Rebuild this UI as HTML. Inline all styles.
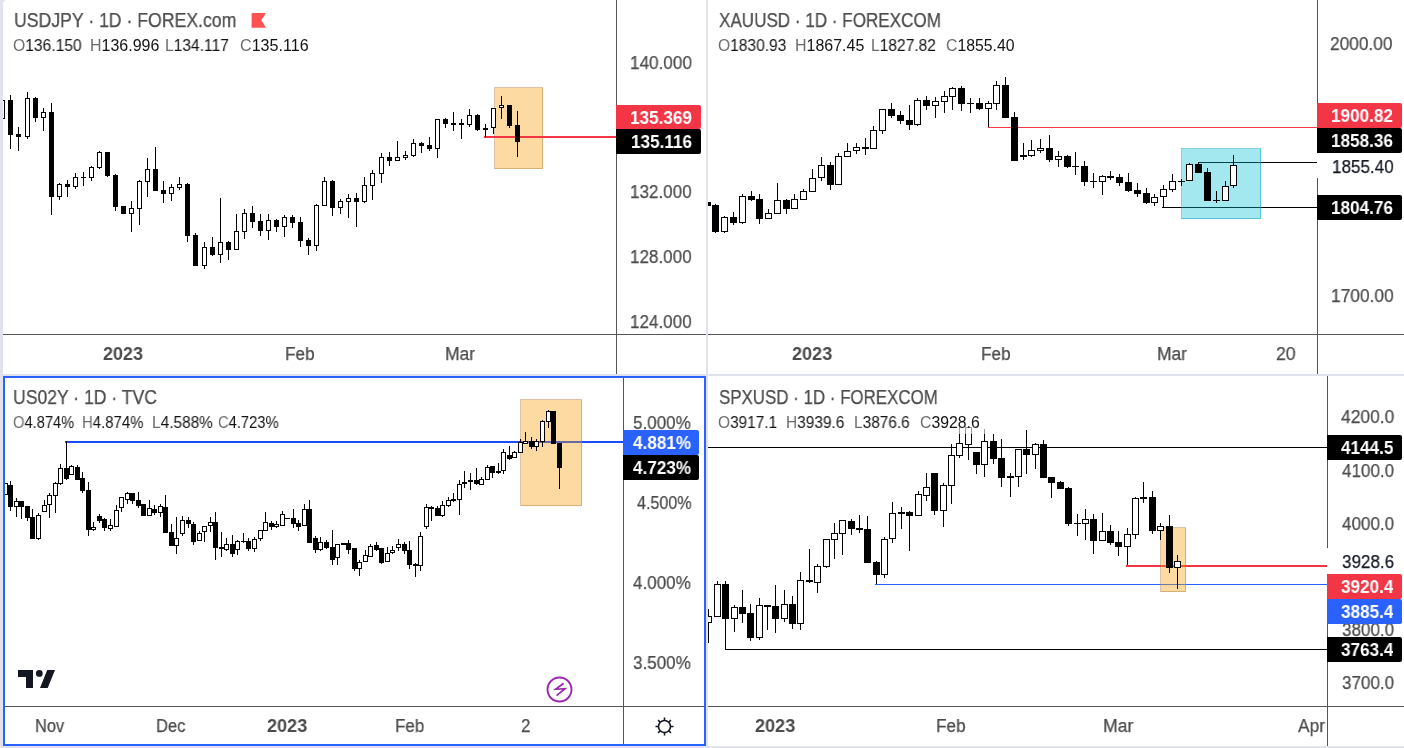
<!DOCTYPE html><html><head><meta charset="utf-8"><style>
html,body{margin:0;padding:0;width:1404px;height:748px;overflow:hidden;background:#e0e3eb;font-family:"Liberation Sans", sans-serif;}
svg{position:absolute;left:0;top:0;shape-rendering:crispEdges}
</style></head><body><div style="position:absolute;left:3px;top:0px;width:703px;height:374px;background:#fff;border-top-left-radius:4px;"></div><div style="position:absolute;left:708px;top:0px;width:696px;height:374px;background:#fff;"></div><div style="position:absolute;left:3px;top:376px;width:703px;height:370px;background:#fff;"></div><div style="position:absolute;left:708px;top:376px;width:696px;height:370px;background:#fff;"></div><svg width="1404" height="748" viewBox="0 0 1404 748"><defs><clipPath id="ctl"><rect x="3" y="0" width="613" height="334"/></clipPath><clipPath id="ctr"><rect x="708" y="0" width="609" height="334"/></clipPath><clipPath id="cbl"><rect x="5" y="378" width="618" height="328"/></clipPath><clipPath id="cbr"><rect x="708" y="376" width="619" height="330"/></clipPath></defs><g clip-path="url(#ctl)"><rect x="494.5" y="87.5" width="48" height="81" fill="rgba(250,155,0,0.37)" stroke="rgba(170,125,60,0.45)" stroke-width="1"/><rect x="484" y="136" width="132" height="2" fill="#f23645"/><g fill="#000"><rect x="0" y="100" width="5" height="19"/><rect x="1" y="101" width="3" height="17" fill="#fff"/><rect x="10" y="95" width="1" height="5"/><rect x="10" y="135" width="1" height="14"/><rect x="8" y="100" width="5" height="35"/><rect x="18" y="127" width="1" height="7"/><rect x="18" y="137" width="1" height="14"/><rect x="16" y="134" width="5" height="3"/><rect x="27" y="92" width="1" height="6"/><rect x="27" y="137" width="1" height="2"/><rect x="25" y="98" width="5" height="39"/><rect x="26" y="99" width="3" height="37" fill="#fff"/><rect x="35" y="97" width="1" height="1"/><rect x="35" y="118" width="1" height="4"/><rect x="33" y="98" width="5" height="20"/><rect x="43" y="108" width="1" height="4"/><rect x="43" y="118" width="1" height="13"/><rect x="41" y="112" width="5" height="6"/><rect x="42" y="113" width="3" height="4" fill="#fff"/><rect x="51" y="103" width="1" height="9"/><rect x="51" y="197" width="1" height="18"/><rect x="49" y="112" width="5" height="85"/><rect x="59" y="183" width="1" height="1"/><rect x="59" y="197" width="1" height="3"/><rect x="57" y="184" width="5" height="13"/><rect x="58" y="185" width="3" height="11" fill="#fff"/><rect x="67" y="180" width="1" height="4"/><rect x="67" y="187" width="1" height="10"/><rect x="65" y="184" width="5" height="3"/><rect x="75" y="173" width="1" height="4"/><rect x="75" y="187" width="1" height="2"/><rect x="73" y="177" width="5" height="10"/><rect x="74" y="178" width="3" height="8" fill="#fff"/><rect x="83" y="172" width="1" height="5"/><rect x="83" y="178" width="1" height="8"/><rect x="81" y="177" width="5" height="1"/><rect x="91" y="166" width="1" height="1"/><rect x="91" y="178" width="1" height="3"/><rect x="89" y="167" width="5" height="11"/><rect x="90" y="168" width="3" height="9" fill="#fff"/><rect x="99" y="151" width="1" height="1"/><rect x="99" y="168" width="1" height="1"/><rect x="97" y="152" width="5" height="16"/><rect x="98" y="153" width="3" height="14" fill="#fff"/><rect x="107" y="176" width="1" height="1"/><rect x="105" y="152" width="5" height="24"/><rect x="115" y="174" width="1" height="1"/><rect x="115" y="207" width="1" height="4"/><rect x="113" y="175" width="5" height="32"/><rect x="121" y="206" width="5" height="8"/><rect x="131" y="201" width="1" height="7"/><rect x="131" y="214" width="1" height="18"/><rect x="129" y="208" width="5" height="6"/><rect x="130" y="209" width="3" height="4" fill="#fff"/><rect x="139" y="180" width="1" height="1"/><rect x="139" y="209" width="1" height="16"/><rect x="137" y="181" width="5" height="28"/><rect x="138" y="182" width="3" height="26" fill="#fff"/><rect x="147" y="158" width="1" height="11"/><rect x="147" y="182" width="1" height="15"/><rect x="145" y="169" width="5" height="13"/><rect x="146" y="170" width="3" height="11" fill="#fff"/><rect x="155" y="147" width="1" height="22"/><rect x="153" y="169" width="5" height="22"/><rect x="163" y="181" width="1" height="9"/><rect x="163" y="194" width="1" height="9"/><rect x="161" y="190" width="5" height="4"/><rect x="171" y="184" width="1" height="3"/><rect x="171" y="194" width="1" height="7"/><rect x="169" y="187" width="5" height="7"/><rect x="170" y="188" width="3" height="5" fill="#fff"/><rect x="179" y="177" width="1" height="7"/><rect x="179" y="188" width="1" height="2"/><rect x="177" y="184" width="5" height="4"/><rect x="178" y="185" width="3" height="2" fill="#fff"/><rect x="187" y="183" width="1" height="1"/><rect x="187" y="236" width="1" height="6"/><rect x="185" y="184" width="5" height="52"/><rect x="195" y="233" width="1" height="2"/><rect x="193" y="235" width="5" height="31"/><rect x="204" y="242" width="1" height="5"/><rect x="204" y="266" width="1" height="3"/><rect x="202" y="247" width="5" height="19"/><rect x="203" y="248" width="3" height="17" fill="#fff"/><rect x="212" y="237" width="1" height="10"/><rect x="212" y="255" width="1" height="1"/><rect x="210" y="247" width="5" height="8"/><rect x="220" y="198" width="1" height="44"/><rect x="220" y="255" width="1" height="8"/><rect x="218" y="242" width="5" height="13"/><rect x="219" y="243" width="3" height="11" fill="#fff"/><rect x="228" y="241" width="1" height="1"/><rect x="228" y="250" width="1" height="10"/><rect x="226" y="242" width="5" height="8"/><rect x="236" y="214" width="1" height="17"/><rect x="234" y="231" width="5" height="19"/><rect x="235" y="232" width="3" height="17" fill="#fff"/><rect x="244" y="209" width="1" height="4"/><rect x="244" y="232" width="1" height="7"/><rect x="242" y="213" width="5" height="19"/><rect x="243" y="214" width="3" height="17" fill="#fff"/><rect x="252" y="206" width="1" height="7"/><rect x="252" y="222" width="1" height="6"/><rect x="250" y="213" width="5" height="9"/><rect x="260" y="214" width="1" height="7"/><rect x="260" y="231" width="1" height="5"/><rect x="258" y="221" width="5" height="10"/><rect x="268" y="214" width="1" height="6"/><rect x="268" y="231" width="1" height="9"/><rect x="266" y="220" width="5" height="11"/><rect x="267" y="221" width="3" height="9" fill="#fff"/><rect x="276" y="219" width="1" height="1"/><rect x="276" y="227" width="1" height="5"/><rect x="274" y="220" width="5" height="7"/><rect x="284" y="215" width="1" height="2"/><rect x="284" y="227" width="1" height="10"/><rect x="282" y="217" width="5" height="10"/><rect x="283" y="218" width="3" height="8" fill="#fff"/><rect x="292" y="215" width="1" height="2"/><rect x="292" y="223" width="1" height="5"/><rect x="290" y="217" width="5" height="6"/><rect x="300" y="217" width="1" height="5"/><rect x="300" y="241" width="1" height="6"/><rect x="298" y="222" width="5" height="19"/><rect x="308" y="238" width="1" height="2"/><rect x="308" y="246" width="1" height="9"/><rect x="306" y="240" width="5" height="6"/><rect x="316" y="204" width="1" height="1"/><rect x="316" y="246" width="1" height="5"/><rect x="314" y="205" width="5" height="41"/><rect x="315" y="206" width="3" height="39" fill="#fff"/><rect x="324" y="177" width="1" height="4"/><rect x="322" y="181" width="5" height="25"/><rect x="323" y="182" width="3" height="23" fill="#fff"/><rect x="332" y="180" width="1" height="1"/><rect x="332" y="208" width="1" height="8"/><rect x="330" y="181" width="5" height="27"/><rect x="340" y="199" width="1" height="2"/><rect x="340" y="208" width="1" height="6"/><rect x="338" y="201" width="5" height="7"/><rect x="339" y="202" width="3" height="5" fill="#fff"/><rect x="348" y="194" width="1" height="4"/><rect x="348" y="202" width="1" height="16"/><rect x="346" y="198" width="5" height="4"/><rect x="347" y="199" width="3" height="2" fill="#fff"/><rect x="356" y="193" width="1" height="5"/><rect x="356" y="202" width="1" height="25"/><rect x="354" y="198" width="5" height="4"/><rect x="364" y="177" width="1" height="8"/><rect x="364" y="202" width="1" height="1"/><rect x="362" y="185" width="5" height="17"/><rect x="363" y="186" width="3" height="15" fill="#fff"/><rect x="372" y="170" width="1" height="3"/><rect x="372" y="186" width="1" height="14"/><rect x="370" y="173" width="5" height="13"/><rect x="371" y="174" width="3" height="11" fill="#fff"/><rect x="381" y="153" width="1" height="4"/><rect x="381" y="174" width="1" height="9"/><rect x="379" y="157" width="5" height="17"/><rect x="380" y="158" width="3" height="15" fill="#fff"/><rect x="389" y="152" width="1" height="5"/><rect x="389" y="161" width="1" height="5"/><rect x="387" y="157" width="5" height="4"/><rect x="397" y="141" width="1" height="16"/><rect x="395" y="157" width="5" height="4"/><rect x="396" y="158" width="3" height="2" fill="#fff"/><rect x="405" y="151" width="1" height="4"/><rect x="405" y="158" width="1" height="2"/><rect x="403" y="155" width="5" height="3"/><rect x="404" y="156" width="3" height="1" fill="#fff"/><rect x="413" y="139" width="1" height="4"/><rect x="413" y="156" width="1" height="1"/><rect x="411" y="143" width="5" height="13"/><rect x="412" y="144" width="3" height="11" fill="#fff"/><rect x="421" y="142" width="1" height="1"/><rect x="421" y="146" width="1" height="7"/><rect x="419" y="143" width="5" height="3"/><rect x="429" y="137" width="1" height="8"/><rect x="429" y="149" width="1" height="2"/><rect x="427" y="145" width="5" height="4"/><rect x="437" y="149" width="1" height="9"/><rect x="435" y="119" width="5" height="30"/><rect x="436" y="120" width="3" height="28" fill="#fff"/><rect x="445" y="118" width="1" height="1"/><rect x="445" y="124" width="1" height="4"/><rect x="443" y="119" width="5" height="5"/><rect x="453" y="112" width="1" height="11"/><rect x="453" y="125" width="1" height="6"/><rect x="451" y="123" width="5" height="2"/><rect x="461" y="119" width="1" height="4"/><rect x="461" y="125" width="1" height="14"/><rect x="459" y="123" width="5" height="2"/><rect x="469" y="109" width="1" height="6"/><rect x="469" y="125" width="1" height="2"/><rect x="467" y="115" width="5" height="10"/><rect x="468" y="116" width="3" height="8" fill="#fff"/><rect x="477" y="114" width="1" height="1"/><rect x="477" y="130" width="1" height="1"/><rect x="475" y="115" width="5" height="15"/><rect x="485" y="124" width="1" height="4"/><rect x="485" y="130" width="1" height="7"/><rect x="483" y="128" width="5" height="2"/><rect x="493" y="128" width="1" height="6"/><rect x="491" y="108" width="5" height="20"/><rect x="492" y="109" width="3" height="18" fill="#fff"/><rect x="501" y="96" width="1" height="9"/><rect x="501" y="108" width="1" height="11"/><rect x="499" y="105" width="5" height="3"/><rect x="500" y="106" width="3" height="1" fill="#fff"/><rect x="509" y="126" width="1" height="2"/><rect x="507" y="105" width="5" height="21"/><rect x="517" y="111" width="1" height="14"/><rect x="517" y="142" width="1" height="15"/><rect x="515" y="125" width="5" height="17"/></g></g><rect x="3" y="334" width="703" height="1" fill="#555555"/><rect x="616" y="0" width="1" height="374" fill="#555555"/><g clip-path="url(#ctr)"><rect x="988" y="127" width="329" height="1" fill="#f23645"/><rect x="1198" y="162" width="119" height="1" fill="#000"/><rect x="1162" y="207" width="155" height="1" fill="#000"/><rect x="1181.5" y="148.5" width="79" height="70" fill="rgba(0,188,212,0.36)" stroke="rgba(0,160,190,0.48)" stroke-width="1"/><g fill="#000"><rect x="704" y="202" width="7" height="4"/><rect x="715" y="204" width="1" height="1"/><rect x="715" y="232" width="1" height="1"/><rect x="712" y="205" width="7" height="27"/><rect x="724" y="216" width="1" height="1"/><rect x="724" y="232" width="1" height="1"/><rect x="721" y="217" width="7" height="15"/><rect x="722" y="218" width="5" height="13" fill="#fff"/><rect x="733" y="212" width="1" height="5"/><rect x="733" y="223" width="1" height="2"/><rect x="730" y="217" width="7" height="6"/><rect x="742" y="194" width="1" height="2"/><rect x="742" y="223" width="1" height="1"/><rect x="739" y="196" width="7" height="27"/><rect x="740" y="197" width="5" height="25" fill="#fff"/><rect x="751" y="191" width="1" height="5"/><rect x="751" y="200" width="1" height="1"/><rect x="748" y="196" width="7" height="4"/><rect x="759" y="194" width="1" height="5"/><rect x="759" y="219" width="1" height="5"/><rect x="756" y="199" width="7" height="20"/><rect x="768" y="209" width="1" height="4"/><rect x="765" y="213" width="7" height="6"/><rect x="766" y="214" width="5" height="4" fill="#fff"/><rect x="777" y="183" width="1" height="17"/><rect x="774" y="200" width="7" height="14"/><rect x="775" y="201" width="5" height="12" fill="#fff"/><rect x="786" y="199" width="1" height="1"/><rect x="786" y="209" width="1" height="5"/><rect x="783" y="200" width="7" height="9"/><rect x="794" y="194" width="1" height="5"/><rect x="791" y="199" width="7" height="10"/><rect x="792" y="200" width="5" height="8" fill="#fff"/><rect x="803" y="189" width="1" height="2"/><rect x="800" y="191" width="7" height="9"/><rect x="801" y="192" width="5" height="7" fill="#fff"/><rect x="812" y="169" width="1" height="9"/><rect x="809" y="178" width="7" height="14"/><rect x="810" y="179" width="5" height="12" fill="#fff"/><rect x="821" y="157" width="1" height="8"/><rect x="821" y="178" width="1" height="3"/><rect x="818" y="165" width="7" height="13"/><rect x="819" y="166" width="5" height="11" fill="#fff"/><rect x="830" y="162" width="1" height="3"/><rect x="830" y="185" width="1" height="5"/><rect x="827" y="165" width="7" height="20"/><rect x="838" y="153" width="1" height="3"/><rect x="835" y="156" width="7" height="29"/><rect x="836" y="157" width="5" height="27" fill="#fff"/><rect x="847" y="143" width="1" height="8"/><rect x="844" y="151" width="7" height="6"/><rect x="845" y="152" width="5" height="4" fill="#fff"/><rect x="856" y="143" width="1" height="4"/><rect x="856" y="151" width="1" height="3"/><rect x="853" y="147" width="7" height="4"/><rect x="854" y="148" width="5" height="2" fill="#fff"/><rect x="865" y="138" width="1" height="9"/><rect x="865" y="149" width="1" height="6"/><rect x="862" y="147" width="7" height="2"/><rect x="873" y="126" width="1" height="4"/><rect x="870" y="130" width="7" height="19"/><rect x="871" y="131" width="5" height="17" fill="#fff"/><rect x="882" y="131" width="1" height="3"/><rect x="879" y="109" width="7" height="22"/><rect x="880" y="110" width="5" height="20" fill="#fff"/><rect x="891" y="103" width="1" height="6"/><rect x="891" y="116" width="1" height="2"/><rect x="888" y="109" width="7" height="7"/><rect x="900" y="111" width="1" height="4"/><rect x="900" y="121" width="1" height="3"/><rect x="897" y="115" width="7" height="6"/><rect x="909" y="105" width="1" height="15"/><rect x="909" y="125" width="1" height="5"/><rect x="906" y="120" width="7" height="5"/><rect x="917" y="98" width="1" height="2"/><rect x="917" y="125" width="1" height="1"/><rect x="914" y="100" width="7" height="25"/><rect x="915" y="101" width="5" height="23" fill="#fff"/><rect x="926" y="96" width="1" height="4"/><rect x="926" y="106" width="1" height="4"/><rect x="923" y="100" width="7" height="6"/><rect x="935" y="97" width="1" height="4"/><rect x="935" y="106" width="1" height="12"/><rect x="932" y="101" width="7" height="5"/><rect x="933" y="102" width="5" height="3" fill="#fff"/><rect x="944" y="91" width="1" height="5"/><rect x="944" y="102" width="1" height="11"/><rect x="941" y="96" width="7" height="6"/><rect x="942" y="97" width="5" height="4" fill="#fff"/><rect x="952" y="87" width="1" height="1"/><rect x="952" y="97" width="1" height="13"/><rect x="949" y="88" width="7" height="9"/><rect x="950" y="89" width="5" height="7" fill="#fff"/><rect x="961" y="86" width="1" height="2"/><rect x="961" y="104" width="1" height="7"/><rect x="958" y="88" width="7" height="16"/><rect x="970" y="98" width="1" height="5"/><rect x="970" y="104" width="1" height="9"/><rect x="967" y="103" width="7" height="1"/><rect x="979" y="98" width="1" height="5"/><rect x="979" y="109" width="1" height="1"/><rect x="976" y="103" width="7" height="6"/><rect x="988" y="101" width="1" height="2"/><rect x="988" y="109" width="1" height="18"/><rect x="985" y="103" width="7" height="6"/><rect x="986" y="104" width="5" height="4" fill="#fff"/><rect x="996" y="81" width="1" height="4"/><rect x="996" y="104" width="1" height="6"/><rect x="993" y="85" width="7" height="19"/><rect x="994" y="86" width="5" height="17" fill="#fff"/><rect x="1005" y="77" width="1" height="8"/><rect x="1002" y="85" width="7" height="33"/><rect x="1014" y="112" width="1" height="5"/><rect x="1011" y="117" width="7" height="44"/><rect x="1023" y="143" width="1" height="12"/><rect x="1023" y="157" width="1" height="3"/><rect x="1020" y="155" width="7" height="2"/><rect x="1031" y="140" width="1" height="10"/><rect x="1031" y="156" width="1" height="1"/><rect x="1028" y="150" width="7" height="6"/><rect x="1029" y="151" width="5" height="4" fill="#fff"/><rect x="1040" y="139" width="1" height="9"/><rect x="1040" y="151" width="1" height="2"/><rect x="1037" y="148" width="7" height="3"/><rect x="1038" y="149" width="5" height="1" fill="#fff"/><rect x="1049" y="135" width="1" height="13"/><rect x="1049" y="160" width="1" height="2"/><rect x="1046" y="148" width="7" height="12"/><rect x="1058" y="151" width="1" height="5"/><rect x="1058" y="160" width="1" height="7"/><rect x="1055" y="156" width="7" height="4"/><rect x="1056" y="157" width="5" height="2" fill="#fff"/><rect x="1067" y="155" width="1" height="1"/><rect x="1067" y="167" width="1" height="1"/><rect x="1064" y="156" width="7" height="11"/><rect x="1075" y="152" width="1" height="14"/><rect x="1075" y="167" width="1" height="8"/><rect x="1072" y="166" width="7" height="1"/><rect x="1084" y="161" width="1" height="5"/><rect x="1084" y="182" width="1" height="4"/><rect x="1081" y="166" width="7" height="16"/><rect x="1093" y="173" width="1" height="8"/><rect x="1093" y="182" width="1" height="6"/><rect x="1090" y="181" width="7" height="1"/><rect x="1102" y="175" width="1" height="1"/><rect x="1102" y="182" width="1" height="13"/><rect x="1099" y="176" width="7" height="6"/><rect x="1100" y="177" width="5" height="4" fill="#fff"/><rect x="1110" y="171" width="1" height="5"/><rect x="1110" y="178" width="1" height="2"/><rect x="1107" y="176" width="7" height="2"/><rect x="1119" y="174" width="1" height="3"/><rect x="1119" y="183" width="1" height="3"/><rect x="1116" y="177" width="7" height="6"/><rect x="1128" y="173" width="1" height="9"/><rect x="1128" y="191" width="1" height="1"/><rect x="1125" y="182" width="7" height="9"/><rect x="1137" y="183" width="1" height="7"/><rect x="1137" y="194" width="1" height="3"/><rect x="1134" y="190" width="7" height="4"/><rect x="1146" y="188" width="1" height="5"/><rect x="1146" y="203" width="1" height="1"/><rect x="1143" y="193" width="7" height="10"/><rect x="1154" y="194" width="1" height="3"/><rect x="1154" y="203" width="1" height="3"/><rect x="1151" y="197" width="7" height="6"/><rect x="1152" y="198" width="5" height="4" fill="#fff"/><rect x="1163" y="185" width="1" height="4"/><rect x="1163" y="197" width="1" height="11"/><rect x="1160" y="189" width="7" height="8"/><rect x="1161" y="190" width="5" height="6" fill="#fff"/><rect x="1172" y="174" width="1" height="7"/><rect x="1172" y="190" width="1" height="2"/><rect x="1169" y="181" width="7" height="9"/><rect x="1170" y="182" width="5" height="7" fill="#fff"/><rect x="1181" y="179" width="1" height="2"/><rect x="1181" y="182" width="1" height="4"/><rect x="1178" y="181" width="7" height="1"/><rect x="1189" y="163" width="1" height="1"/><rect x="1186" y="164" width="7" height="17"/><rect x="1187" y="165" width="5" height="15" fill="#fff"/><rect x="1198" y="162" width="1" height="2"/><rect x="1195" y="164" width="7" height="9"/><rect x="1207" y="168" width="1" height="4"/><rect x="1204" y="172" width="7" height="29"/><rect x="1216" y="191" width="1" height="9"/><rect x="1216" y="201" width="1" height="2"/><rect x="1213" y="200" width="7" height="1"/><rect x="1225" y="181" width="1" height="5"/><rect x="1222" y="186" width="7" height="15"/><rect x="1223" y="187" width="5" height="13" fill="#fff"/><rect x="1233" y="155" width="1" height="10"/><rect x="1233" y="186" width="1" height="2"/><rect x="1230" y="165" width="7" height="21"/><rect x="1231" y="166" width="5" height="19" fill="#fff"/></g></g><rect x="708" y="334" width="696" height="1" fill="#555555"/><rect x="1317" y="0" width="1" height="153" fill="#555555"/><rect x="1317" y="178" width="1" height="196" fill="#555555"/><g clip-path="url(#cbl)"><rect x="65" y="441" width="558" height="2" fill="#1a4bff"/><rect x="520.5" y="399.5" width="61" height="106" fill="rgba(250,155,0,0.37)" stroke="rgba(170,125,60,0.45)" stroke-width="1"/><g fill="#000"><rect x="3" y="483" width="5" height="12"/><rect x="4" y="484" width="3" height="10" fill="#fff"/><rect x="10" y="481" width="1" height="4"/><rect x="10" y="507" width="1" height="4"/><rect x="8" y="485" width="5" height="22"/><rect x="16" y="498" width="1" height="3"/><rect x="16" y="507" width="1" height="10"/><rect x="14" y="501" width="5" height="6"/><rect x="15" y="502" width="3" height="4" fill="#fff"/><rect x="21" y="507" width="1" height="12"/><rect x="19" y="501" width="5" height="6"/><rect x="27" y="518" width="1" height="3"/><rect x="25" y="506" width="5" height="12"/><rect x="32" y="509" width="1" height="8"/><rect x="30" y="517" width="5" height="22"/><rect x="38" y="513" width="1" height="2"/><rect x="38" y="539" width="1" height="1"/><rect x="36" y="515" width="5" height="24"/><rect x="37" y="516" width="3" height="22" fill="#fff"/><rect x="44" y="500" width="1" height="5"/><rect x="42" y="505" width="5" height="7"/><rect x="43" y="506" width="3" height="5" fill="#fff"/><rect x="49" y="493" width="1" height="2"/><rect x="49" y="505" width="1" height="13"/><rect x="47" y="495" width="5" height="10"/><rect x="48" y="496" width="3" height="8" fill="#fff"/><rect x="55" y="482" width="1" height="1"/><rect x="55" y="496" width="1" height="17"/><rect x="53" y="483" width="5" height="13"/><rect x="54" y="484" width="3" height="11" fill="#fff"/><rect x="60" y="464" width="1" height="4"/><rect x="60" y="484" width="1" height="1"/><rect x="58" y="468" width="5" height="16"/><rect x="59" y="469" width="3" height="14" fill="#fff"/><rect x="66" y="441" width="1" height="27"/><rect x="66" y="479" width="1" height="1"/><rect x="64" y="468" width="5" height="11"/><rect x="71" y="465" width="1" height="1"/><rect x="69" y="466" width="5" height="9"/><rect x="70" y="467" width="3" height="7" fill="#fff"/><rect x="77" y="465" width="1" height="2"/><rect x="75" y="467" width="5" height="13"/><rect x="82" y="472" width="1" height="6"/><rect x="82" y="491" width="1" height="2"/><rect x="80" y="478" width="5" height="13"/><rect x="88" y="482" width="1" height="8"/><rect x="88" y="530" width="1" height="6"/><rect x="86" y="490" width="5" height="40"/><rect x="93" y="522" width="1" height="5"/><rect x="93" y="530" width="1" height="1"/><rect x="91" y="527" width="5" height="3"/><rect x="92" y="528" width="3" height="1" fill="#fff"/><rect x="99" y="514" width="1" height="2"/><rect x="99" y="521" width="1" height="2"/><rect x="97" y="516" width="5" height="5"/><rect x="104" y="518" width="1" height="1"/><rect x="104" y="528" width="1" height="3"/><rect x="102" y="519" width="5" height="9"/><rect x="110" y="519" width="1" height="6"/><rect x="110" y="529" width="1" height="2"/><rect x="108" y="525" width="5" height="4"/><rect x="109" y="526" width="3" height="2" fill="#fff"/><rect x="116" y="505" width="1" height="5"/><rect x="114" y="510" width="5" height="17"/><rect x="115" y="511" width="3" height="15" fill="#fff"/><rect x="121" y="508" width="1" height="4"/><rect x="119" y="497" width="5" height="11"/><rect x="120" y="498" width="3" height="9" fill="#fff"/><rect x="127" y="492" width="1" height="1"/><rect x="127" y="500" width="1" height="4"/><rect x="125" y="493" width="5" height="7"/><rect x="126" y="494" width="3" height="5" fill="#fff"/><rect x="132" y="501" width="1" height="3"/><rect x="130" y="493" width="5" height="8"/><rect x="138" y="492" width="1" height="8"/><rect x="138" y="506" width="1" height="2"/><rect x="136" y="500" width="5" height="6"/><rect x="141" y="504" width="5" height="12"/><rect x="149" y="500" width="1" height="8"/><rect x="147" y="508" width="5" height="8"/><rect x="148" y="509" width="3" height="6" fill="#fff"/><rect x="154" y="505" width="1" height="4"/><rect x="154" y="513" width="1" height="2"/><rect x="152" y="509" width="5" height="4"/><rect x="160" y="504" width="1" height="2"/><rect x="160" y="513" width="1" height="4"/><rect x="158" y="506" width="5" height="7"/><rect x="159" y="507" width="3" height="5" fill="#fff"/><rect x="165" y="495" width="1" height="12"/><rect x="163" y="507" width="5" height="26"/><rect x="171" y="524" width="1" height="8"/><rect x="169" y="532" width="5" height="14"/><rect x="176" y="517" width="1" height="21"/><rect x="176" y="546" width="1" height="8"/><rect x="174" y="538" width="5" height="8"/><rect x="175" y="539" width="3" height="6" fill="#fff"/><rect x="182" y="516" width="1" height="4"/><rect x="182" y="534" width="1" height="2"/><rect x="180" y="520" width="5" height="14"/><rect x="181" y="521" width="3" height="12" fill="#fff"/><rect x="188" y="517" width="1" height="3"/><rect x="188" y="524" width="1" height="4"/><rect x="186" y="520" width="5" height="4"/><rect x="193" y="522" width="1" height="2"/><rect x="193" y="542" width="1" height="3"/><rect x="191" y="524" width="5" height="18"/><rect x="199" y="531" width="1" height="2"/><rect x="197" y="533" width="5" height="8"/><rect x="198" y="534" width="3" height="6" fill="#fff"/><rect x="204" y="532" width="1" height="10"/><rect x="202" y="526" width="5" height="6"/><rect x="203" y="527" width="3" height="4" fill="#fff"/><rect x="210" y="517" width="1" height="5"/><rect x="210" y="526" width="1" height="6"/><rect x="208" y="522" width="5" height="4"/><rect x="209" y="523" width="3" height="2" fill="#fff"/><rect x="215" y="512" width="1" height="10"/><rect x="215" y="548" width="1" height="12"/><rect x="213" y="522" width="5" height="26"/><rect x="221" y="532" width="1" height="15"/><rect x="221" y="549" width="1" height="8"/><rect x="219" y="547" width="5" height="2"/><rect x="226" y="538" width="1" height="6"/><rect x="226" y="550" width="1" height="1"/><rect x="224" y="544" width="5" height="6"/><rect x="225" y="545" width="3" height="4" fill="#fff"/><rect x="232" y="535" width="1" height="9"/><rect x="232" y="554" width="1" height="3"/><rect x="230" y="544" width="5" height="10"/><rect x="237" y="540" width="1" height="1"/><rect x="237" y="550" width="1" height="5"/><rect x="235" y="541" width="5" height="9"/><rect x="236" y="542" width="3" height="7" fill="#fff"/><rect x="243" y="533" width="1" height="8"/><rect x="243" y="542" width="1" height="1"/><rect x="241" y="541" width="5" height="1"/><rect x="248" y="538" width="1" height="3"/><rect x="248" y="549" width="1" height="2"/><rect x="246" y="541" width="5" height="8"/><rect x="254" y="537" width="1" height="2"/><rect x="254" y="549" width="1" height="3"/><rect x="252" y="539" width="5" height="10"/><rect x="253" y="540" width="3" height="8" fill="#fff"/><rect x="260" y="539" width="1" height="2"/><rect x="258" y="530" width="5" height="9"/><rect x="259" y="531" width="3" height="7" fill="#fff"/><rect x="265" y="512" width="1" height="10"/><rect x="263" y="522" width="5" height="9"/><rect x="264" y="523" width="3" height="7" fill="#fff"/><rect x="271" y="521" width="1" height="2"/><rect x="271" y="527" width="1" height="3"/><rect x="269" y="523" width="5" height="4"/><rect x="276" y="521" width="1" height="3"/><rect x="276" y="527" width="1" height="1"/><rect x="274" y="524" width="5" height="3"/><rect x="275" y="525" width="3" height="1" fill="#fff"/><rect x="282" y="511" width="1" height="3"/><rect x="280" y="514" width="5" height="12"/><rect x="281" y="515" width="3" height="10" fill="#fff"/><rect x="285" y="518" width="5" height="1"/><rect x="293" y="509" width="1" height="9"/><rect x="293" y="524" width="1" height="4"/><rect x="291" y="518" width="5" height="6"/><rect x="298" y="520" width="1" height="3"/><rect x="298" y="527" width="1" height="4"/><rect x="296" y="523" width="5" height="4"/><rect x="304" y="504" width="1" height="5"/><rect x="302" y="509" width="5" height="17"/><rect x="303" y="510" width="3" height="15" fill="#fff"/><rect x="309" y="500" width="1" height="9"/><rect x="307" y="509" width="5" height="34"/><rect x="315" y="536" width="1" height="2"/><rect x="315" y="550" width="1" height="3"/><rect x="313" y="538" width="5" height="12"/><rect x="320" y="537" width="1" height="5"/><rect x="320" y="550" width="1" height="1"/><rect x="318" y="542" width="5" height="8"/><rect x="319" y="543" width="3" height="6" fill="#fff"/><rect x="326" y="540" width="1" height="2"/><rect x="326" y="548" width="1" height="1"/><rect x="324" y="542" width="5" height="6"/><rect x="332" y="530" width="1" height="17"/><rect x="332" y="560" width="1" height="5"/><rect x="330" y="547" width="5" height="13"/><rect x="337" y="558" width="1" height="7"/><rect x="335" y="544" width="5" height="14"/><rect x="336" y="545" width="3" height="12" fill="#fff"/><rect x="341" y="543" width="5" height="2"/><rect x="348" y="540" width="1" height="3"/><rect x="348" y="550" width="1" height="4"/><rect x="346" y="543" width="5" height="7"/><rect x="354" y="569" width="1" height="2"/><rect x="352" y="548" width="5" height="21"/><rect x="359" y="560" width="1" height="2"/><rect x="359" y="569" width="1" height="7"/><rect x="357" y="562" width="5" height="7"/><rect x="358" y="563" width="3" height="5" fill="#fff"/><rect x="365" y="550" width="1" height="5"/><rect x="363" y="555" width="5" height="7"/><rect x="364" y="556" width="3" height="5" fill="#fff"/><rect x="370" y="544" width="1" height="2"/><rect x="368" y="546" width="5" height="11"/><rect x="369" y="547" width="3" height="9" fill="#fff"/><rect x="376" y="542" width="1" height="3"/><rect x="376" y="550" width="1" height="1"/><rect x="374" y="545" width="5" height="5"/><rect x="381" y="563" width="1" height="1"/><rect x="379" y="548" width="5" height="15"/><rect x="387" y="547" width="1" height="6"/><rect x="385" y="553" width="5" height="9"/><rect x="386" y="554" width="3" height="7" fill="#fff"/><rect x="392" y="546" width="1" height="4"/><rect x="392" y="553" width="1" height="1"/><rect x="390" y="550" width="5" height="3"/><rect x="391" y="551" width="3" height="1" fill="#fff"/><rect x="398" y="539" width="1" height="5"/><rect x="398" y="548" width="1" height="3"/><rect x="396" y="544" width="5" height="4"/><rect x="397" y="545" width="3" height="2" fill="#fff"/><rect x="404" y="542" width="1" height="2"/><rect x="404" y="551" width="1" height="3"/><rect x="402" y="544" width="5" height="7"/><rect x="409" y="541" width="1" height="9"/><rect x="409" y="565" width="1" height="4"/><rect x="407" y="550" width="5" height="15"/><rect x="415" y="563" width="1" height="1"/><rect x="415" y="566" width="1" height="11"/><rect x="413" y="564" width="5" height="2"/><rect x="420" y="532" width="1" height="4"/><rect x="420" y="566" width="1" height="5"/><rect x="418" y="536" width="5" height="30"/><rect x="419" y="537" width="3" height="28" fill="#fff"/><rect x="426" y="504" width="1" height="3"/><rect x="426" y="527" width="1" height="2"/><rect x="424" y="507" width="5" height="20"/><rect x="425" y="508" width="3" height="18" fill="#fff"/><rect x="431" y="506" width="1" height="1"/><rect x="431" y="509" width="1" height="12"/><rect x="429" y="507" width="5" height="2"/><rect x="437" y="506" width="1" height="2"/><rect x="435" y="508" width="5" height="8"/><rect x="442" y="501" width="1" height="4"/><rect x="442" y="516" width="1" height="1"/><rect x="440" y="505" width="5" height="11"/><rect x="441" y="506" width="3" height="9" fill="#fff"/><rect x="448" y="497" width="1" height="3"/><rect x="448" y="506" width="1" height="1"/><rect x="446" y="500" width="5" height="6"/><rect x="447" y="501" width="3" height="4" fill="#fff"/><rect x="453" y="493" width="1" height="6"/><rect x="453" y="501" width="1" height="1"/><rect x="451" y="499" width="5" height="2"/><rect x="459" y="480" width="1" height="4"/><rect x="459" y="500" width="1" height="15"/><rect x="457" y="484" width="5" height="16"/><rect x="458" y="485" width="3" height="14" fill="#fff"/><rect x="464" y="471" width="1" height="11"/><rect x="464" y="484" width="1" height="4"/><rect x="462" y="482" width="5" height="2"/><rect x="470" y="473" width="1" height="7"/><rect x="470" y="482" width="1" height="8"/><rect x="468" y="480" width="5" height="2"/><rect x="476" y="468" width="1" height="12"/><rect x="476" y="484" width="1" height="1"/><rect x="474" y="480" width="5" height="4"/><rect x="481" y="477" width="1" height="2"/><rect x="479" y="479" width="5" height="6"/><rect x="480" y="480" width="3" height="4" fill="#fff"/><rect x="487" y="465" width="1" height="2"/><rect x="485" y="467" width="5" height="13"/><rect x="486" y="468" width="3" height="11" fill="#fff"/><rect x="492" y="473" width="1" height="5"/><rect x="490" y="466" width="5" height="7"/><rect x="498" y="463" width="1" height="8"/><rect x="498" y="473" width="1" height="1"/><rect x="496" y="471" width="5" height="2"/><rect x="503" y="449" width="1" height="3"/><rect x="503" y="471" width="1" height="3"/><rect x="501" y="452" width="5" height="19"/><rect x="502" y="453" width="3" height="17" fill="#fff"/><rect x="509" y="446" width="1" height="9"/><rect x="509" y="459" width="1" height="1"/><rect x="507" y="455" width="5" height="4"/><rect x="514" y="451" width="1" height="1"/><rect x="512" y="452" width="5" height="6"/><rect x="513" y="453" width="3" height="4" fill="#fff"/><rect x="520" y="439" width="1" height="3"/><rect x="518" y="442" width="5" height="11"/><rect x="519" y="443" width="3" height="9" fill="#fff"/><rect x="525" y="432" width="1" height="9"/><rect x="523" y="441" width="5" height="3"/><rect x="524" y="442" width="3" height="1" fill="#fff"/><rect x="531" y="437" width="1" height="4"/><rect x="531" y="447" width="1" height="2"/><rect x="529" y="441" width="5" height="6"/><rect x="536" y="439" width="1" height="2"/><rect x="536" y="447" width="1" height="4"/><rect x="534" y="441" width="5" height="6"/><rect x="535" y="442" width="3" height="4" fill="#fff"/><rect x="542" y="420" width="1" height="1"/><rect x="542" y="442" width="1" height="5"/><rect x="540" y="421" width="5" height="21"/><rect x="541" y="422" width="3" height="19" fill="#fff"/><rect x="548" y="410" width="1" height="1"/><rect x="548" y="422" width="1" height="6"/><rect x="546" y="411" width="5" height="11"/><rect x="547" y="412" width="3" height="9" fill="#fff"/><rect x="551" y="411" width="5" height="33"/><rect x="559" y="468" width="1" height="21"/><rect x="557" y="443" width="5" height="25"/></g></g><rect x="5" y="706" width="699" height="1" fill="#555555"/><rect x="623" y="378" width="1" height="366" fill="#555555"/><rect x="4" y="377" width="701" height="368" fill="none" stroke="#2962ff" stroke-width="2"/><g clip-path="url(#cbr)"><rect x="708" y="447" width="619" height="1" fill="#000"/><rect x="725" y="649" width="602" height="1" fill="#000"/><rect x="875" y="584" width="452" height="1" fill="#2962ff"/><rect x="1126" y="565" width="201" height="2" fill="#f23645"/><rect x="1160.5" y="527.5" width="25" height="64" fill="rgba(250,155,0,0.37)" stroke="rgba(170,125,60,0.45)" stroke-width="1"/><g fill="#000"><rect x="708" y="609" width="1" height="7"/><rect x="708" y="623" width="1" height="20"/><rect x="705" y="616" width="7" height="7"/><rect x="706" y="617" width="5" height="5" fill="#fff"/><rect x="717" y="581" width="1" height="3"/><rect x="714" y="584" width="7" height="33"/><rect x="715" y="585" width="5" height="31" fill="#fff"/><rect x="725" y="581" width="1" height="3"/><rect x="725" y="619" width="1" height="30"/><rect x="722" y="584" width="7" height="35"/><rect x="734" y="605" width="1" height="2"/><rect x="734" y="619" width="1" height="13"/><rect x="731" y="607" width="7" height="12"/><rect x="732" y="608" width="5" height="10" fill="#fff"/><rect x="742" y="590" width="1" height="17"/><rect x="742" y="614" width="1" height="9"/><rect x="739" y="607" width="7" height="7"/><rect x="750" y="604" width="1" height="9"/><rect x="750" y="638" width="1" height="3"/><rect x="747" y="613" width="7" height="25"/><rect x="759" y="598" width="1" height="7"/><rect x="759" y="638" width="1" height="2"/><rect x="756" y="605" width="7" height="33"/><rect x="757" y="606" width="5" height="31" fill="#fff"/><rect x="767" y="607" width="1" height="23"/><rect x="764" y="605" width="7" height="2"/><rect x="775" y="585" width="1" height="21"/><rect x="775" y="619" width="1" height="14"/><rect x="772" y="606" width="7" height="13"/><rect x="784" y="590" width="1" height="14"/><rect x="784" y="619" width="1" height="3"/><rect x="781" y="604" width="7" height="15"/><rect x="782" y="605" width="5" height="13" fill="#fff"/><rect x="792" y="596" width="1" height="8"/><rect x="792" y="624" width="1" height="5"/><rect x="789" y="604" width="7" height="20"/><rect x="800" y="572" width="1" height="8"/><rect x="800" y="624" width="1" height="6"/><rect x="797" y="580" width="7" height="44"/><rect x="798" y="581" width="5" height="42" fill="#fff"/><rect x="809" y="549" width="1" height="31"/><rect x="809" y="582" width="1" height="1"/><rect x="806" y="580" width="7" height="2"/><rect x="817" y="564" width="1" height="2"/><rect x="817" y="583" width="1" height="10"/><rect x="814" y="566" width="7" height="17"/><rect x="815" y="567" width="5" height="15" fill="#fff"/><rect x="826" y="567" width="1" height="1"/><rect x="823" y="539" width="7" height="28"/><rect x="824" y="540" width="5" height="26" fill="#fff"/><rect x="834" y="523" width="1" height="10"/><rect x="834" y="540" width="1" height="19"/><rect x="831" y="533" width="7" height="7"/><rect x="832" y="534" width="5" height="5" fill="#fff"/><rect x="842" y="534" width="1" height="21"/><rect x="839" y="520" width="7" height="14"/><rect x="840" y="521" width="5" height="12" fill="#fff"/><rect x="851" y="519" width="1" height="2"/><rect x="851" y="529" width="1" height="6"/><rect x="848" y="521" width="7" height="8"/><rect x="859" y="515" width="1" height="13"/><rect x="859" y="530" width="1" height="3"/><rect x="856" y="528" width="7" height="2"/><rect x="867" y="516" width="1" height="13"/><rect x="864" y="529" width="7" height="34"/><rect x="876" y="561" width="1" height="1"/><rect x="876" y="575" width="1" height="9"/><rect x="873" y="562" width="7" height="13"/><rect x="884" y="537" width="1" height="2"/><rect x="884" y="575" width="1" height="3"/><rect x="881" y="539" width="7" height="36"/><rect x="882" y="540" width="5" height="34" fill="#fff"/><rect x="892" y="502" width="1" height="11"/><rect x="892" y="539" width="1" height="4"/><rect x="889" y="513" width="7" height="26"/><rect x="890" y="514" width="5" height="24" fill="#fff"/><rect x="901" y="507" width="1" height="5"/><rect x="901" y="514" width="1" height="15"/><rect x="898" y="512" width="7" height="2"/><rect x="909" y="511" width="1" height="1"/><rect x="909" y="516" width="1" height="35"/><rect x="906" y="512" width="7" height="4"/><rect x="918" y="491" width="1" height="3"/><rect x="915" y="494" width="7" height="22"/><rect x="916" y="495" width="5" height="20" fill="#fff"/><rect x="926" y="473" width="1" height="14"/><rect x="926" y="496" width="1" height="5"/><rect x="923" y="487" width="7" height="9"/><rect x="924" y="488" width="5" height="7" fill="#fff"/><rect x="934" y="511" width="1" height="4"/><rect x="931" y="473" width="7" height="38"/><rect x="943" y="483" width="1" height="2"/><rect x="943" y="511" width="1" height="16"/><rect x="940" y="485" width="7" height="26"/><rect x="941" y="486" width="5" height="24" fill="#fff"/><rect x="951" y="444" width="1" height="11"/><rect x="951" y="486" width="1" height="18"/><rect x="948" y="455" width="7" height="31"/><rect x="949" y="456" width="5" height="29" fill="#fff"/><rect x="959" y="427" width="1" height="16"/><rect x="959" y="456" width="1" height="2"/><rect x="956" y="443" width="7" height="13"/><rect x="957" y="444" width="5" height="11" fill="#fff"/><rect x="968" y="445" width="1" height="15"/><rect x="965" y="427" width="7" height="18"/><rect x="966" y="428" width="5" height="16" fill="#fff"/><rect x="976" y="465" width="1" height="9"/><rect x="973" y="452" width="7" height="13"/><rect x="984" y="429" width="1" height="12"/><rect x="984" y="465" width="1" height="12"/><rect x="981" y="441" width="7" height="24"/><rect x="982" y="442" width="5" height="22" fill="#fff"/><rect x="993" y="434" width="1" height="7"/><rect x="993" y="459" width="1" height="5"/><rect x="990" y="441" width="7" height="18"/><rect x="1001" y="439" width="1" height="19"/><rect x="1001" y="478" width="1" height="9"/><rect x="998" y="458" width="7" height="20"/><rect x="1010" y="473" width="1" height="3"/><rect x="1010" y="478" width="1" height="19"/><rect x="1007" y="476" width="7" height="2"/><rect x="1018" y="477" width="1" height="10"/><rect x="1015" y="449" width="7" height="28"/><rect x="1016" y="450" width="5" height="26" fill="#fff"/><rect x="1026" y="430" width="1" height="19"/><rect x="1026" y="455" width="1" height="19"/><rect x="1023" y="449" width="7" height="6"/><rect x="1035" y="443" width="1" height="1"/><rect x="1035" y="455" width="1" height="14"/><rect x="1032" y="444" width="7" height="11"/><rect x="1033" y="445" width="5" height="9" fill="#fff"/><rect x="1043" y="440" width="1" height="4"/><rect x="1040" y="444" width="7" height="34"/><rect x="1051" y="483" width="1" height="15"/><rect x="1048" y="477" width="7" height="6"/><rect x="1060" y="481" width="1" height="1"/><rect x="1057" y="482" width="7" height="7"/><rect x="1068" y="487" width="1" height="1"/><rect x="1068" y="524" width="1" height="2"/><rect x="1065" y="488" width="7" height="36"/><rect x="1077" y="514" width="1" height="9"/><rect x="1077" y="524" width="1" height="12"/><rect x="1074" y="523" width="7" height="1"/><rect x="1085" y="509" width="1" height="10"/><rect x="1085" y="524" width="1" height="16"/><rect x="1082" y="519" width="7" height="5"/><rect x="1083" y="520" width="5" height="3" fill="#fff"/><rect x="1093" y="514" width="1" height="5"/><rect x="1093" y="541" width="1" height="13"/><rect x="1090" y="519" width="7" height="22"/><rect x="1102" y="513" width="1" height="18"/><rect x="1099" y="531" width="7" height="10"/><rect x="1100" y="532" width="5" height="8" fill="#fff"/><rect x="1110" y="525" width="1" height="6"/><rect x="1110" y="543" width="1" height="2"/><rect x="1107" y="531" width="7" height="12"/><rect x="1118" y="531" width="1" height="11"/><rect x="1118" y="547" width="1" height="9"/><rect x="1115" y="542" width="7" height="5"/><rect x="1127" y="528" width="1" height="6"/><rect x="1127" y="547" width="1" height="18"/><rect x="1124" y="534" width="7" height="13"/><rect x="1125" y="535" width="5" height="11" fill="#fff"/><rect x="1135" y="497" width="1" height="1"/><rect x="1135" y="535" width="1" height="4"/><rect x="1132" y="498" width="7" height="37"/><rect x="1133" y="499" width="5" height="35" fill="#fff"/><rect x="1143" y="482" width="1" height="15"/><rect x="1143" y="499" width="1" height="4"/><rect x="1140" y="497" width="7" height="2"/><rect x="1152" y="491" width="1" height="6"/><rect x="1152" y="531" width="1" height="3"/><rect x="1149" y="497" width="7" height="34"/><rect x="1160" y="523" width="1" height="3"/><rect x="1160" y="531" width="1" height="9"/><rect x="1157" y="526" width="7" height="5"/><rect x="1158" y="527" width="5" height="3" fill="#fff"/><rect x="1169" y="515" width="1" height="11"/><rect x="1169" y="568" width="1" height="5"/><rect x="1166" y="526" width="7" height="42"/><rect x="1177" y="555" width="1" height="6"/><rect x="1177" y="568" width="1" height="21"/><rect x="1174" y="561" width="7" height="7"/><rect x="1175" y="562" width="5" height="5" fill="#fff"/></g></g><rect x="708" y="706" width="696" height="1" fill="#555555"/><rect x="1327" y="376" width="1" height="172" fill="#555555"/><rect x="1327" y="574" width="1" height="172" fill="#555555"/></svg><div style="position:absolute;left:629.95px;top:53.74px;font-size:18.70px;line-height:1;color:#4b4b4b;font-weight:normal;white-space:nowrap;transform:scaleX(0.9165);transform-origin:0 0;will-change:transform;-webkit-text-stroke:0.25px #4b4b4b;">140.000</div><div style="position:absolute;left:630.20px;top:183.22px;font-size:18.70px;line-height:1;color:#4b4b4b;font-weight:normal;white-space:nowrap;transform:scaleX(0.9123);transform-origin:0 0;will-change:transform;-webkit-text-stroke:0.25px #4b4b4b;">132.000</div><div style="position:absolute;left:630.20px;top:248.20px;font-size:18.70px;line-height:1;color:#4b4b4b;font-weight:normal;white-space:nowrap;transform:scaleX(0.9123);transform-origin:0 0;will-change:transform;-webkit-text-stroke:0.25px #4b4b4b;">128.000</div><div style="position:absolute;left:630.20px;top:312.77px;font-size:18.70px;line-height:1;color:#4b4b4b;font-weight:normal;white-space:nowrap;transform:scaleX(0.9123);transform-origin:0 0;will-change:transform;-webkit-text-stroke:0.25px #4b4b4b;">124.000</div><div style="position:absolute;left:1330.40px;top:34.75px;font-size:18.70px;line-height:1;color:#4b4b4b;font-weight:normal;white-space:nowrap;transform:scaleX(0.9239);transform-origin:0 0;will-change:transform;-webkit-text-stroke:0.25px #4b4b4b;">2000.00</div><div style="position:absolute;left:1330.52px;top:287.31px;font-size:18.70px;line-height:1;color:#4b4b4b;font-weight:normal;white-space:nowrap;transform:scaleX(0.9272);transform-origin:0 0;will-change:transform;-webkit-text-stroke:0.25px #4b4b4b;">1700.00</div><div style="position:absolute;left:1331.51px;top:157.50px;font-size:18.70px;line-height:1;color:#131722;font-weight:normal;white-space:nowrap;transform:scaleX(0.9123);transform-origin:0 0;will-change:transform;-webkit-text-stroke:0.25px #131722;">1855.40</div><div style="position:absolute;left:633.27px;top:413.97px;font-size:18.70px;line-height:1;color:#4b4b4b;font-weight:normal;white-space:nowrap;transform:scaleX(0.9123);transform-origin:0 0;will-change:transform;-webkit-text-stroke:0.25px #4b4b4b;">5.000%</div><div style="position:absolute;left:636.56px;top:493.64px;font-size:18.70px;line-height:1;color:#4b4b4b;font-weight:normal;white-space:nowrap;transform:scaleX(0.8616);transform-origin:0 0;will-change:transform;-webkit-text-stroke:0.25px #4b4b4b;">4.500%</div><div style="position:absolute;left:633.38px;top:573.63px;font-size:18.70px;line-height:1;color:#4b4b4b;font-weight:normal;white-space:nowrap;transform:scaleX(0.9123);transform-origin:0 0;will-change:transform;-webkit-text-stroke:0.25px #4b4b4b;">4.000%</div><div style="position:absolute;left:633.27px;top:653.85px;font-size:18.70px;line-height:1;color:#4b4b4b;font-weight:normal;white-space:nowrap;transform:scaleX(0.9123);transform-origin:0 0;will-change:transform;-webkit-text-stroke:0.25px #4b4b4b;">3.500%</div><div style="position:absolute;left:1340.57px;top:407.60px;font-size:18.70px;line-height:1;color:#4b4b4b;font-weight:normal;white-space:nowrap;transform:scaleX(0.9325);transform-origin:0 0;will-change:transform;-webkit-text-stroke:0.25px #4b4b4b;">4200.0</div><div style="position:absolute;left:1341.82px;top:461.61px;font-size:18.70px;line-height:1;color:#4b4b4b;font-weight:normal;white-space:nowrap;transform:scaleX(0.9123);transform-origin:0 0;will-change:transform;-webkit-text-stroke:0.25px #4b4b4b;">4100.0</div><div style="position:absolute;left:1341.82px;top:515.16px;font-size:18.70px;line-height:1;color:#4b4b4b;font-weight:normal;white-space:nowrap;transform:scaleX(0.9123);transform-origin:0 0;will-change:transform;-webkit-text-stroke:0.25px #4b4b4b;">4000.0</div><div style="position:absolute;left:1341.70px;top:620.58px;font-size:18.70px;line-height:1;color:#4b4b4b;font-weight:normal;white-space:nowrap;transform:scaleX(0.9123);transform-origin:0 0;will-change:transform;-webkit-text-stroke:0.25px #4b4b4b;">3800.0</div><div style="position:absolute;left:1341.70px;top:673.64px;font-size:18.70px;line-height:1;color:#4b4b4b;font-weight:normal;white-space:nowrap;transform:scaleX(0.9123);transform-origin:0 0;will-change:transform;-webkit-text-stroke:0.25px #4b4b4b;">3700.0</div><div style="position:absolute;left:1341.64px;top:553.13px;font-size:18.70px;line-height:1;color:#131722;font-weight:normal;white-space:nowrap;transform:scaleX(0.9123);transform-origin:0 0;will-change:transform;-webkit-text-stroke:0.25px #131722;">3928.6</div><div style="position:absolute;left:616px;top:105px;width:85px;height:24px;background:#f23645;border-radius:0 2px 2px 0;"></div><div style="position:absolute;left:616px;top:129px;width:85px;height:25px;background:#000;border-radius:0 2px 2px 0;"></div><div style="position:absolute;left:1317px;top:103px;width:85px;height:25px;background:#f23645;border-radius:0 2px 2px 0;"></div><div style="position:absolute;left:1317px;top:128px;width:85px;height:25px;background:#000;border-radius:0 2px 2px 0;"></div><div style="position:absolute;left:1317px;top:195px;width:85px;height:25px;background:#000;border-radius:0 2px 2px 0;"></div><div style="position:absolute;left:623px;top:430px;width:76px;height:25px;background:#2962ff;border-radius:0 2px 2px 0;"></div><div style="position:absolute;left:623px;top:455px;width:76px;height:25px;background:#000;border-radius:0 2px 2px 0;"></div><div style="position:absolute;left:1327px;top:435px;width:75px;height:25px;background:#000;border-radius:0 2px 2px 0;"></div><div style="position:absolute;left:1327px;top:574px;width:75px;height:25px;background:#f23645;border-radius:0 2px 2px 0;"></div><div style="position:absolute;left:1327px;top:599px;width:75px;height:25px;background:#2962ff;border-radius:0 2px 2px 0;"></div><div style="position:absolute;left:1327px;top:637px;width:75px;height:25px;background:#000;border-radius:0 2px 2px 0;"></div><svg style="left:251px;top:13px;shape-rendering:geometricPrecision" width="15" height="15"><path d="M0.6 0H15L10.3 7.35L15 14.7H0.6Z" fill="#ff5252"/></svg><svg style="left:10px;top:660px;shape-rendering:geometricPrecision" width="60" height="40"><path d="M8 10H23V28H16V17H8Z M25.9 13.4a3.4 3.4 0 1 0 6.8 0a3.4 3.4 0 1 0 -6.8 0Z M37.2 10H45L37.7 28H30Z" fill="#131722"/></svg><svg style="left:546px;top:676px;shape-rendering:geometricPrecision" width="27" height="27" viewBox="0 0 27 27"><circle cx="13.5" cy="13.5" r="12" fill="none" stroke="#9c27b0" stroke-width="1.9"/><path d="M17.6 7.2L9.6 13.3L19 12.7L10.6 19.6" fill="none" stroke="#9c27b0" stroke-width="1.7" stroke-linejoin="miter"/></svg><svg style="left:654px;top:715.5px;shape-rendering:geometricPrecision" width="21" height="21" viewBox="0 0 21 21"><circle cx="10.5" cy="10.5" r="6" fill="none" stroke="#131722" stroke-width="1.6"/><path d="M10.5 1.5V4.5M10.5 16.5V19.5M1.5 10.5H4.5M16.5 10.5H19.5M4.1 4.1L6.2 6.2M14.8 14.8L16.9 16.9M4.1 16.9L6.2 14.8M14.8 6.2L16.9 4.1" stroke="#131722" stroke-width="1.6"/></svg><div style="position:absolute;left:712px;top:382px;width:278px;height:52px;background:rgba(255,255,255,0.6)"></div><div style="position:absolute;left:13.76px;top:10.41px;font-size:20.14px;line-height:1;color:#4c4c4c;font-weight:normal;white-space:nowrap;transform:scaleX(0.8772);transform-origin:0 0;will-change:transform;-webkit-text-stroke:0.25px #4c4c4c;">USDJPY · 1D · FOREX.com</div><div style="position:absolute;left:718.56px;top:10.41px;font-size:20.14px;line-height:1;color:#4c4c4c;font-weight:normal;white-space:nowrap;transform:scaleX(0.8480);transform-origin:0 0;will-change:transform;-webkit-text-stroke:0.25px #4c4c4c;">XAUUSD · 1D · FOREXCOM</div><div style="position:absolute;left:13.42px;top:386.78px;font-size:20.29px;line-height:1;color:#4c4c4c;font-weight:normal;white-space:nowrap;transform:scaleX(0.8665);transform-origin:0 0;will-change:transform;-webkit-text-stroke:0.25px #4c4c4c;">US02Y · 1D · TVC</div><div style="position:absolute;left:718.56px;top:386.78px;font-size:20.29px;line-height:1;color:#4c4c4c;font-weight:normal;white-space:nowrap;transform:scaleX(0.8330);transform-origin:0 0;will-change:transform;-webkit-text-stroke:0.25px #4c4c4c;">SPXUSD · 1D · FOREXCOM</div><div style="position:absolute;left:12.58px;top:38.32px;font-size:15.80px;line-height:1;color:#131313;font-weight:normal;white-space:nowrap;transform:scaleX(0.9908);transform-origin:0 0;will-change:transform;"><span style="color:#6b6b6b">O</span>136.150</div><div style="position:absolute;left:89.64px;top:38.32px;font-size:15.80px;line-height:1;color:#131313;font-weight:normal;white-space:nowrap;transform:scaleX(1.0119);transform-origin:0 0;will-change:transform;"><span style="color:#6b6b6b">H</span>136.996</div><div style="position:absolute;left:165.44px;top:38.32px;font-size:15.80px;line-height:1;color:#131313;font-weight:normal;white-space:nowrap;transform:scaleX(0.9863);transform-origin:0 0;will-change:transform;"><span style="color:#6b6b6b">L</span>134.117</div><div style="position:absolute;left:239.60px;top:38.32px;font-size:15.80px;line-height:1;color:#131313;font-weight:normal;white-space:nowrap;transform:scaleX(1.0186);transform-origin:0 0;will-change:transform;"><span style="color:#6b6b6b">C</span>135.116</div><div style="position:absolute;left:717.97px;top:38.24px;font-size:15.80px;line-height:1;color:#131313;font-weight:normal;white-space:nowrap;transform:scaleX(0.9863);transform-origin:0 0;will-change:transform;"><span style="color:#6b6b6b">O</span>1830.93</div><div style="position:absolute;left:794.59px;top:38.32px;font-size:15.80px;line-height:1;color:#131313;font-weight:normal;white-space:nowrap;transform:scaleX(1.0119);transform-origin:0 0;will-change:transform;"><span style="color:#6b6b6b">H</span>1867.45</div><div style="position:absolute;left:871.17px;top:38.32px;font-size:15.80px;line-height:1;color:#131313;font-weight:normal;white-space:nowrap;transform:scaleX(0.9863);transform-origin:0 0;will-change:transform;"><span style="color:#6b6b6b">L</span>1827.82</div><div style="position:absolute;left:945.53px;top:38.32px;font-size:15.80px;line-height:1;color:#131313;font-weight:normal;white-space:nowrap;transform:scaleX(0.9979);transform-origin:0 0;will-change:transform;"><span style="color:#6b6b6b">C</span>1855.40</div><div style="position:absolute;left:13.35px;top:414.72px;font-size:15.65px;line-height:1;color:#131313;font-weight:normal;white-space:nowrap;transform:scaleX(0.9395);transform-origin:0 0;will-change:transform;"><span style="color:#6b6b6b">O</span>4.874%</div><div style="position:absolute;left:82.45px;top:414.70px;font-size:15.65px;line-height:1;color:#131313;font-weight:normal;white-space:nowrap;transform:scaleX(0.9551);transform-origin:0 0;will-change:transform;"><span style="color:#6b6b6b">H</span>4.874%</div><div style="position:absolute;left:151.84px;top:414.65px;font-size:15.65px;line-height:1;color:#131313;font-weight:normal;white-space:nowrap;transform:scaleX(0.9863);transform-origin:0 0;will-change:transform;"><span style="color:#6b6b6b">L</span>4.588%</div><div style="position:absolute;left:218.09px;top:414.65px;font-size:15.65px;line-height:1;color:#131313;font-weight:normal;white-space:nowrap;transform:scaleX(0.9417);transform-origin:0 0;will-change:transform;"><span style="color:#6b6b6b">C</span>4.723%</div><div style="position:absolute;left:718.26px;top:414.65px;font-size:15.65px;line-height:1;color:#131313;font-weight:normal;white-space:nowrap;transform:scaleX(0.9863);transform-origin:0 0;will-change:transform;"><span style="color:#6b6b6b">O</span>3917.1</div><div style="position:absolute;left:785.77px;top:414.60px;font-size:15.65px;line-height:1;color:#131313;font-weight:normal;white-space:nowrap;transform:scaleX(0.9863);transform-origin:0 0;will-change:transform;"><span style="color:#6b6b6b">H</span>3939.6</div><div style="position:absolute;left:853.77px;top:414.65px;font-size:15.65px;line-height:1;color:#131313;font-weight:normal;white-space:nowrap;transform:scaleX(0.9863);transform-origin:0 0;will-change:transform;"><span style="color:#6b6b6b">L</span>3876.6</div><div style="position:absolute;left:919.62px;top:414.60px;font-size:15.65px;line-height:1;color:#131313;font-weight:normal;white-space:nowrap;transform:scaleX(1.0094);transform-origin:0 0;will-change:transform;"><span style="color:#6b6b6b">C</span>3928.6</div><div style="position:absolute;left:629.54px;top:110.42px;font-size:17.97px;line-height:1;color:#ffffff;font-weight:bold;white-space:nowrap;transform:scaleX(0.9532);transform-origin:0 0;will-change:transform;">135.369</div><div style="position:absolute;left:630.55px;top:134.42px;font-size:17.97px;line-height:1;color:#ffffff;font-weight:bold;white-space:nowrap;transform:scaleX(0.9532);transform-origin:0 0;will-change:transform;">135.116</div><div style="position:absolute;left:1331.22px;top:108.00px;font-size:17.97px;line-height:1;color:#ffffff;font-weight:bold;white-space:nowrap;transform:scaleX(0.9532);transform-origin:0 0;will-change:transform;">1900.82</div><div style="position:absolute;left:1330.85px;top:133.11px;font-size:17.97px;line-height:1;color:#ffffff;font-weight:bold;white-space:nowrap;transform:scaleX(0.9532);transform-origin:0 0;will-change:transform;">1858.36</div><div style="position:absolute;left:1330.85px;top:199.80px;font-size:17.97px;line-height:1;color:#ffffff;font-weight:bold;white-space:nowrap;transform:scaleX(0.9532);transform-origin:0 0;will-change:transform;">1804.76</div><div style="position:absolute;left:633.25px;top:435.11px;font-size:17.97px;line-height:1;color:#ffffff;font-weight:bold;white-space:nowrap;transform:scaleX(0.9532);transform-origin:0 0;will-change:transform;">4.881%</div><div style="position:absolute;left:633.25px;top:460.11px;font-size:17.97px;line-height:1;color:#ffffff;font-weight:bold;white-space:nowrap;transform:scaleX(0.9532);transform-origin:0 0;will-change:transform;">4.723%</div><div style="position:absolute;left:1341.38px;top:439.80px;font-size:17.97px;line-height:1;color:#ffffff;font-weight:bold;white-space:nowrap;transform:scaleX(0.9532);transform-origin:0 0;will-change:transform;">4144.5</div><div style="position:absolute;left:1341.20px;top:578.73px;font-size:17.97px;line-height:1;color:#ffffff;font-weight:bold;white-space:nowrap;transform:scaleX(0.9532);transform-origin:0 0;will-change:transform;">3920.4</div><div style="position:absolute;left:1341.20px;top:603.80px;font-size:17.97px;line-height:1;color:#ffffff;font-weight:bold;white-space:nowrap;transform:scaleX(0.9532);transform-origin:0 0;will-change:transform;">3885.4</div><div style="position:absolute;left:1341.20px;top:642.11px;font-size:17.97px;line-height:1;color:#ffffff;font-weight:bold;white-space:nowrap;transform:scaleX(0.9532);transform-origin:0 0;will-change:transform;">3763.4</div><div style="position:absolute;left:103.13px;top:343.86px;font-size:18.99px;line-height:1;color:#4b4b4b;font-weight:bold;white-space:nowrap;transform:scaleX(0.9461);transform-origin:0 0;will-change:transform;">2023</div><div style="position:absolute;left:285.44px;top:343.72px;font-size:18.99px;line-height:1;color:#4b4b4b;font-weight:normal;white-space:nowrap;transform:scaleX(0.9020);transform-origin:0 0;will-change:transform;-webkit-text-stroke:0.25px #4b4b4b;">Feb</div><div style="position:absolute;left:445.41px;top:343.79px;font-size:18.99px;line-height:1;color:#4b4b4b;font-weight:normal;white-space:nowrap;transform:scaleX(0.9209);transform-origin:0 0;will-change:transform;-webkit-text-stroke:0.25px #4b4b4b;">Mar</div><div style="position:absolute;left:792.43px;top:343.86px;font-size:18.99px;line-height:1;color:#4b4b4b;font-weight:bold;white-space:nowrap;transform:scaleX(0.9535);transform-origin:0 0;will-change:transform;">2023</div><div style="position:absolute;left:981.47px;top:343.72px;font-size:18.99px;line-height:1;color:#4b4b4b;font-weight:normal;white-space:nowrap;transform:scaleX(0.9020);transform-origin:0 0;will-change:transform;-webkit-text-stroke:0.25px #4b4b4b;">Feb</div><div style="position:absolute;left:1156.79px;top:343.80px;font-size:18.99px;line-height:1;color:#4b4b4b;font-weight:normal;white-space:nowrap;transform:scaleX(0.9177);transform-origin:0 0;will-change:transform;-webkit-text-stroke:0.25px #4b4b4b;">Mar</div><div style="position:absolute;left:1276.39px;top:343.70px;font-size:18.99px;line-height:1;color:#4b4b4b;font-weight:normal;white-space:nowrap;transform:scaleX(0.9295);transform-origin:0 0;will-change:transform;-webkit-text-stroke:0.25px #4b4b4b;">20</div><div style="position:absolute;left:34.66px;top:715.74px;font-size:18.99px;line-height:1;color:#4b4b4b;font-weight:normal;white-space:nowrap;transform:scaleX(0.8633);transform-origin:0 0;will-change:transform;-webkit-text-stroke:0.25px #4b4b4b;">Nov</div><div style="position:absolute;left:156.25px;top:715.78px;font-size:18.99px;line-height:1;color:#4b4b4b;font-weight:normal;white-space:nowrap;transform:scaleX(0.8705);transform-origin:0 0;will-change:transform;-webkit-text-stroke:0.25px #4b4b4b;">Dec</div><div style="position:absolute;left:267.45px;top:715.86px;font-size:18.99px;line-height:1;color:#4b4b4b;font-weight:bold;white-space:nowrap;transform:scaleX(0.9535);transform-origin:0 0;will-change:transform;">2023</div><div style="position:absolute;left:394.57px;top:715.72px;font-size:18.99px;line-height:1;color:#4b4b4b;font-weight:normal;white-space:nowrap;transform:scaleX(0.8921);transform-origin:0 0;will-change:transform;-webkit-text-stroke:0.25px #4b4b4b;">Feb</div><div style="position:absolute;left:520.53px;top:715.71px;font-size:18.99px;line-height:1;color:#4b4b4b;font-weight:normal;white-space:nowrap;transform:scaleX(0.8931);transform-origin:0 0;will-change:transform;-webkit-text-stroke:0.25px #4b4b4b;">2</div><div style="position:absolute;left:755.45px;top:715.86px;font-size:18.99px;line-height:1;color:#4b4b4b;font-weight:bold;white-space:nowrap;transform:scaleX(0.9535);transform-origin:0 0;will-change:transform;">2023</div><div style="position:absolute;left:936.35px;top:715.72px;font-size:18.99px;line-height:1;color:#4b4b4b;font-weight:normal;white-space:nowrap;transform:scaleX(0.9020);transform-origin:0 0;will-change:transform;-webkit-text-stroke:0.25px #4b4b4b;">Feb</div><div style="position:absolute;left:1102.62px;top:715.79px;font-size:18.99px;line-height:1;color:#4b4b4b;font-weight:normal;white-space:nowrap;transform:scaleX(0.9306);transform-origin:0 0;will-change:transform;-webkit-text-stroke:0.25px #4b4b4b;">Mar</div><div style="position:absolute;left:1297.52px;top:715.79px;font-size:18.99px;line-height:1;color:#4b4b4b;font-weight:normal;white-space:nowrap;transform:scaleX(0.9132);transform-origin:0 0;will-change:transform;-webkit-text-stroke:0.25px #4b4b4b;">Apr</div></body></html>
